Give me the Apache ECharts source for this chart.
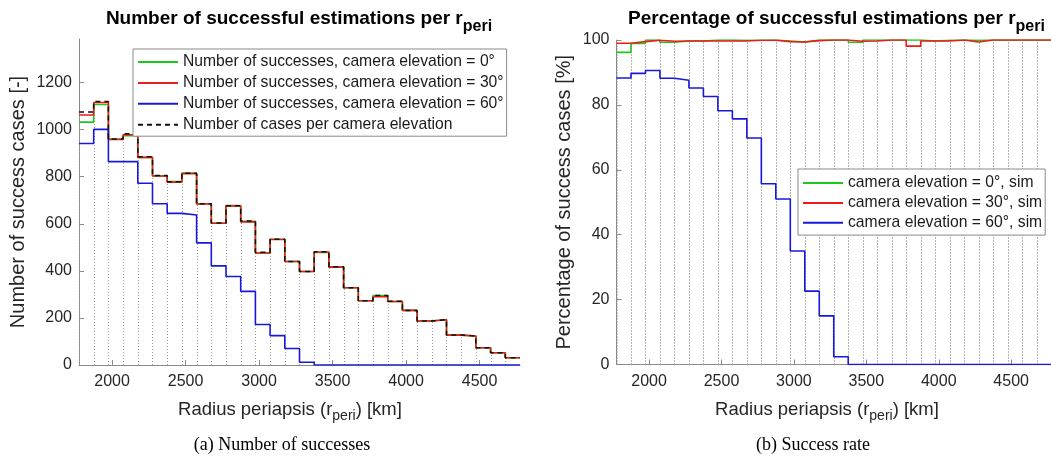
<!DOCTYPE html>
<html><head><meta charset="utf-8">
<script src="https://cdn.jsdelivr.net/npm/echarts@6/dist/echarts.min.js"></script>
<style>html,body{margin:0;padding:0;background:#fff}#c{width:1051px;height:462px}</style>
</head><body><div id="c"></div>
<script>
// ---- data ----
const binEdges = [1775,1875,1975,2075,2175,2275,2375,2475,2575,2675,2775,2875,2975,3075,3175,3275,3375,3475,3575,3675,3775,3875,3975,4075,4175,4275,4375,4475,4575,4675,4775];
const xTicks = [2000,2500,3000,3500,4000,4500];
const countTicks = [0,200,400,600,800,1000,1200];
const pctTicks = [0,20,40,60,80,100];

const casesPerElevation = [1075,1120,960,982,885,805,779,815,685,603,677,612,479,534,440,397,481,417,328,273,295,271,232,187,193,127,123,73,52,31];
const successEl0  = [1032,1107,960,974,882,803,779,815,685,602,677,610,476,534,440,397,478,417,328,273,295,270,232,187,193,127,123,73,52,31];
const successEl30 = [1062,1115,958,978,882,803,777,813,684,602,676,608,476,533,440,397,480,416,328,273,290,270,232,187,192,127,123,73,52,31];
const successEl60 = [941,1001,864,864,772,685,644,637,519,421,376,313,172,125,70,12,0,0,0,0,0,0,0,0,0,0,0,0,0,0];

const pctEl0  = [96.2,98.9,100,99.3,99.7,99.7,100,100,99.9,99.9,100,99.7,99.4,100,100,100,99.3,100,100,100,100,99.7,99.9,100,99.9,100,100,100,100,100];
const pctEl30 = [99.0,99.5,99.9,99.6,99.7,99.7,99.7,99.7,99.7,99.9,99.9,99.5,99.4,99.8,100,100,99.6,99.7,100,100,98.1,99.7,99.7,100,99.4,100,100,100,100,100];
const pctEl60 = [88.3,89.7,90.6,88.2,87.6,85.2,82.6,78.2,75.7,69.8,55.7,51.0,35.0,22.6,15.0,2.4,0,0,0,0,0,0,0,0,0,0,0,0,0,0];

const namesLeft = ['Number of successes, camera elevation = 0°','Number of successes, camera elevation = 30°','Number of successes, camera elevation = 60°','Number of cases per camera elevation'];
const namesRight = ['camera elevation = 0°, sim','camera elevation = 30°, sim','camera elevation = 60°, sim'];

// ---- styling ----
const FONT = 'Liberation Sans, Arial, sans-serif';
const GREEN = '#1cc81c', RED = '#f01818', BLUE = '#1818dc', BLACK = '#111111';
const AXIS = '#8a8a8a', TXT = '#262626';

function stairs(vals){
  const d = vals.map((v,i)=>[binEdges[i], v]);
  d.push([binEdges[binEdges.length-1], vals[vals.length-1]]);
  return d;
}
function stepSeries(name, vals, color, xi, dashed){
  return {name, type:'line', step:'end', xAxisIndex:xi, yAxisIndex:xi, symbol:'none', showSymbol:false,
    data: stairs(vals), animation:false, silent:true,
    lineStyle:{color, width: dashed?1.5:1.6, type: dashed?[5,4]:'solid'}, itemStyle:{color}};
}
function outlineSeries(heights, xi){
  return {type:'custom', xAxisIndex:xi, yAxisIndex:xi, silent:true, z:1, animation:false, clip:true,
    data: heights.map((h,i)=>[binEdges[i], binEdges[i+1], h]),
    encode:{x:[0,1], y:2},
    renderItem:(params, api)=>{
      const x0=api.value(0), x1=api.value(1), h=api.value(2);
      const st = {stroke:'#9a9a9a', lineWidth:1, lineDash:[1,2]};
      const mk = (x)=>{
        const p0 = api.coord([x,0]), p1 = api.coord([x,h]);
        const px = Math.round(p0[0])+0.5;
        return {type:'line', shape:{x1:px,y1:p0[1],x2:px,y2:p1[1]}, style:st};
      };
      return {type:'group', children:[mk(x0), mk(x1)]};
    }};
}
const plain = v => String(v);
function xAxisCfg(gi){
  return {type:'value', gridIndex:gi, min:1775, max:4775,
    axisLine:{show:true, onZero:false, lineStyle:{color:AXIS, width:1}},
    axisTick:{show:true, inside:true, length:5, customValues:xTicks, lineStyle:{color:AXIS}},
    axisLabel:{customValues:xTicks, formatter:plain, fontSize:16, color:TXT, fontFamily:FONT, margin:9},
    splitLine:{show:false}};
}
function yAxisCfg(gi, max, ticks, name, gap){
  return {type:'value', gridIndex:gi, min:0, max:max,
    name:name, nameLocation:'middle', nameRotate:90, nameGap:gap,
    nameTextStyle:{fontSize:20, color:TXT, fontFamily:FONT},
    axisLine:{show:true, lineStyle:{color:AXIS, width:1}},
    axisTick:{show:true, inside:true, length:5, customValues:ticks, lineStyle:{color:AXIS}},
    axisLabel:{customValues:ticks, formatter:plain, fontSize:16, color:TXT, fontFamily:FONT, margin:7},
    splitLine:{show:false}};
}
function titleRich(text, x, y){
  return {type:'text', x, y, z:10, style:{
    text:'{a|'+text+'}{s|peri}', align:'center', verticalAlign:'top',
    rich:{
      a:{fontSize:19, fontWeight:'bold', fontFamily:FONT, fill:'#000', lineHeight:22, verticalAlign:'top'},
      s:{fontSize:16, fontWeight:'bold', fontFamily:FONT, fill:'#000', lineHeight:22, verticalAlign:'top', padding:[10,0,0,0]}
    }}};
}
function xLabelRich(x, y){
  return {type:'text', x, y, z:10, style:{
    text:'{a|Radius periapsis (r}{s|peri}{a|) [km]}', align:'center', verticalAlign:'top',
    rich:{
      a:{fontSize:18.5, fontFamily:FONT, fill:TXT, lineHeight:22, verticalAlign:'top'},
      s:{fontSize:14, fontFamily:FONT, fill:TXT, lineHeight:22, verticalAlign:'top', padding:[9,0,0,0]}
    }}};
}
function legendCfg(names, left, top, pad, gap){
  return {data:names, orient:'vertical', left, top, selectedMode:false,
    backgroundColor:'#fff', borderColor:'#8a8a8a', borderWidth:1, borderRadius:0,
    padding:pad, itemWidth:40, itemHeight:14, itemGap:gap,
    itemStyle:{opacity:0},
    textStyle:{fontSize:15.7, color:'#1a1a1a', fontFamily:FONT}};
}

const chart = echarts.init(document.getElementById('c'), null, {renderer:'canvas'});
chart.setOption({
  animation:false,
  backgroundColor:'#fff',
  grid:[
    {left:79, right:531, top:39, bottom:97},
    {left:616.5, right:-6.5, top:40, bottom:97.5}
  ],
  xAxis:[xAxisCfg(0), xAxisCfg(1)],
  yAxis:[
    yAxisCfg(0, 1385, countTicks, 'Number of success cases [-]', 51),
    yAxisCfg(1, 100, pctTicks, 'Percentage of success cases [%]', 42)
  ],
  legend:[
    legendCfg(namesLeft, 133, 49, [5,3,3.5,4], 4.9),
    legendCfg(namesRight, 798, 169, [6,3,4.3,4], 3.9)
  ],
  series:[
    outlineSeries(casesPerElevation, 0),
    stepSeries(namesLeft[0], successEl0, GREEN, 0),
    stepSeries(namesLeft[1], successEl30, RED, 0),
    stepSeries(namesLeft[2], successEl60, BLUE, 0),
    stepSeries(namesLeft[3], casesPerElevation, BLACK, 0, true),
    outlineSeries(pctEl0.map((v,i)=>Math.max(v, pctEl30[i])), 1),
    stepSeries(namesRight[0], pctEl0, GREEN, 1),
    stepSeries(namesRight[1], pctEl30, RED, 1),
    stepSeries(namesRight[2], pctEl60, BLUE, 1)
  ],
  graphic:[
    titleRich('Number of successful estimations per r', 299, 9),
    titleRich('Percentage of successful estimations per r', 836.5, 9),
    xLabelRich(290, 400.5),
    xLabelRich(827, 400.5),
    {type:'text', x:282, y:445, style:{text:'(a) Number of successes', align:'center', verticalAlign:'middle', fontSize:18, fontFamily:'Liberation Serif, Times New Roman, serif', fill:'#000'}},
    {type:'text', x:813, y:445, style:{text:'(b) Success rate', align:'center', verticalAlign:'middle', fontSize:18, fontFamily:'Liberation Serif, Times New Roman, serif', fill:'#000'}}
  ]
});
</script></body></html>
